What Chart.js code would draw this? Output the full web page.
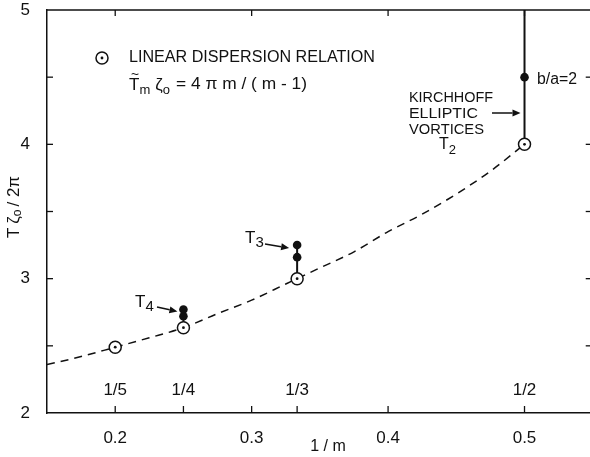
<!DOCTYPE html>
<html><head><meta charset="utf-8">
<script src="https://cdn.jsdelivr.net/npm/chart.js@4.4.1/dist/chart.umd.min.js"></script>
<style>
html,body{margin:0;padding:0;overflow:hidden;background:#fff;width:590px;height:457px}
#c{display:block}
</style></head>
<body><canvas id="c" width="590" height="457"></canvas>
<script>
// ---- data ----
const curveX = [0.15, 0.175, 0.2, 0.225, 0.25, 0.275, 0.3, 0.325, 0.35, 0.375, 0.4, 0.425, 0.45, 0.475, 0.5];
const curveY = [2.36, 2.42, 2.49, 2.56, 2.635, 2.74, 2.84, 2.96, 3.08, 3.2, 3.35, 3.48, 3.63, 3.8, 4.0];
const linearX = [0.2, 0.25, 1/3, 0.5];
const linearY = [2.49, 2.635, 3.0, 4.0];
const nonlinearX = [0.25, 0.25, 1/3, 1/3, 0.5];
const nonlinearY = [2.72, 2.77, 3.16, 3.25, 4.5];
const branchX = [0.25, 1/3, 0.5];
const branchBottom = [2.635, 3.0, 4.0];
const branchTop = [2.77, 3.25, 5.0];
const fracX = [0.2, 0.25, 1/3, 0.5];
const fracLabels = ['1/5', '1/4', '1/3', '1/2'];
const xTickValues = [0.2, 0.25, 0.3, 1/3, 0.4, 0.5];
const xTickLabels = ['0.2', '', '0.3', '', '0.4', '0.5'];
const topTickValues = [0.2, 0.3, 0.4, 0.5];
const yTickValues = [2, 3, 4, 5];
const yTickLabels = ['2', '3', '4', '5'];
const yMinorTicks = [2.5, 3, 3.5, 4, 4.5];
const X_MIN = 0.15, X_MAX = 0.548, Y_MIN = 2, Y_MAX = 5;

const FONT = '"Liberation Sans", Arial, sans-serif';
const INK = '#111';

const pts = (xs, ys) => xs.map((x, i) => ({x: x, y: ys[i]}));

const datasets = [];
datasets.push({data: pts(linearX, linearY), pointRadius: 1.4, pointBackgroundColor: INK, pointBorderWidth: 0, showLine: false});
datasets.push({data: pts(linearX, linearY), pointRadius: 6, pointBackgroundColor: '#fff', pointBorderColor: INK, pointBorderWidth: 1.5, showLine: false});
datasets.push({data: pts(nonlinearX, nonlinearY), pointRadius: 4.3, pointBackgroundColor: INK, pointBorderWidth: 0, showLine: false});
branchX.forEach((bx, i) => {
  datasets.push({data: [{x: bx, y: branchBottom[i]}, {x: bx, y: branchTop[i]}], showLine: true, borderColor: INK, borderWidth: 2, pointRadius: 0});
});
datasets.push({data: pts(curveX, curveY), showLine: true, borderColor: INK, borderWidth: 1.5, borderDash: [8, 6], pointRadius: 0, tension: 0.4, cubicInterpolationMode: 'monotone'});

function fitText(ctx, s, x, y, size, w, align) {
  ctx.font = size + 'px ' + FONT;
  const m = ctx.measureText(s).width;
  const sx = w ? w / m : 1;
  ctx.save();
  ctx.translate(x, y);
  ctx.scale(sx, 1);
  ctx.textBaseline = 'middle';
  ctx.textAlign = align || 'left';
  ctx.fillText(s, 0, 0);
  ctx.restore();
}
function arrow(ctx, x1, y1, x2, y2) {
  const a = Math.atan2(y2 - y1, x2 - x1);
  const L = 8, W = 3.5;
  ctx.beginPath();
  ctx.moveTo(x1, y1);
  ctx.lineTo(x2 - L * Math.cos(a), y2 - L * Math.sin(a));
  ctx.lineWidth = 1.5; ctx.stroke();
  ctx.beginPath();
  ctx.moveTo(x2, y2);
  ctx.lineTo(x2 - L * Math.cos(a) - W * Math.sin(a), y2 - L * Math.sin(a) + W * Math.cos(a));
  ctx.lineTo(x2 - L * Math.cos(a) + W * Math.sin(a), y2 - L * Math.sin(a) - W * Math.cos(a));
  ctx.closePath(); ctx.fill();
}
function openMarker(ctx, x, y) {
  ctx.beginPath(); ctx.arc(x, y, 6, 0, Math.PI * 2);
  ctx.fillStyle = '#fff'; ctx.fill();
  ctx.lineWidth = 1.5; ctx.strokeStyle = INK; ctx.stroke();
  ctx.beginPath(); ctx.arc(x, y, 1.4, 0, Math.PI * 2);
  ctx.fillStyle = INK; ctx.fill();
}
function pieces(ctx, list, x, y) {
  let cx = x;
  list.forEach(p => {
    ctx.font = p.size + 'px ' + FONT;
    ctx.textBaseline = 'middle'; ctx.textAlign = 'left';
    ctx.fillText(p.t, cx, y + (p.dy || 0));
    cx += ctx.measureText(p.t).width + (p.gap || 0);
  });
  return cx - x;
}
function piecesWidth(ctx, list) {
  let w = 0;
  list.forEach(p => { ctx.font = p.size + 'px ' + FONT; w += ctx.measureText(p.t).width + (p.gap || 0); });
  return w;
}

const decor = {
  id: 'decor',
  afterDatasetsDraw(chart) {
    const ctx = chart.ctx, xs = chart.scales.x, ys = chart.scales.y, a = chart.chartArea;
    ctx.save();
    ctx.strokeStyle = INK; ctx.fillStyle = INK; ctx.lineWidth = 1.5;
    ctx.beginPath(); ctx.moveTo(a.left, a.top); ctx.lineTo(a.right, a.top); ctx.stroke();
    ctx.lineWidth = 1.3;
    xTickValues.forEach(v => { const p = xs.getPixelForValue(v); ctx.beginPath(); ctx.moveTo(p, a.bottom); ctx.lineTo(p, a.bottom - 7); ctx.stroke(); });
    topTickValues.forEach(v => { const p = xs.getPixelForValue(v); ctx.beginPath(); ctx.moveTo(p, a.top); ctx.lineTo(p, a.top + 6); ctx.stroke(); });
    const rightEdge = xs.getPixelForValue(0.55);
    yMinorTicks.forEach(v => {
      const p = ys.getPixelForValue(v);
      ctx.beginPath(); ctx.moveTo(a.left, p); ctx.lineTo(a.left + 6, p); ctx.stroke();
      ctx.beginPath(); ctx.moveTo(rightEdge, p); ctx.lineTo(rightEdge - 7, p); ctx.stroke();
    });
    fracX.forEach((v, i) => fitText(ctx, fracLabels[i], xs.getPixelForValue(v), a.bottom - 23, 17, null, 'center'));
    openMarker(ctx, 102, 58);
    ctx.fillStyle = INK;
    fitText(ctx, 'LINEAR DISPERSION RELATION', 129, 58, 16, 246);
    const f = [
      {t: 'T', size: 17}, {t: 'm', size: 13, dy: 5, gap: 5},
      {t: 'ζ', size: 17}, {t: 'o', size: 13, dy: 5}
    ];
    pieces(ctx, f, 129, 85);
    fitText(ctx, '~', 131, 75, 14, 8);
    fitText(ctx, '= 4 π m / ( m - 1)', 176, 85, 16, 131);
    fitText(ctx, 'KIRCHHOFF', 409, 98, 15, 84);
    fitText(ctx, 'ELLIPTIC', 409, 114, 15, 69);
    fitText(ctx, 'VORTICES', 409, 130, 15, 75);
    pieces(ctx, [{t: 'T', size: 16}, {t: '2', size: 13, dy: 5}], 439, 145);
    arrow(ctx, 492, 113, xs.getPixelForValue(0.5) - 4, 113);
    fitText(ctx, 'b/a=2', 537, 80, 16, 40);
    pieces(ctx, [{t: 'T', size: 17}, {t: '3', size: 15, dy: 5}], 245, 238);
    arrow(ctx, 265, 244, xs.getPixelForValue(1/3) - 8, ys.getPixelForValue(3.25) + 3);
    pieces(ctx, [{t: 'T', size: 17}, {t: '4', size: 15, dy: 5}], 135, 302);
    arrow(ctx, 157, 307, xs.getPixelForValue(0.25) - 6, ys.getPixelForValue(2.77) + 2);
    fitText(ctx, '1 / m', 328, 447, 16, null, 'center');
    ctx.save();
    ctx.translate(14, 207);
    ctx.rotate(-Math.PI / 2);
    const yt = [{t: 'T', size: 17, gap: 4}, {t: 'ζ', size: 17}, {t: 'o', size: 12, dy: 4, gap: 3}, {t: '/ 2π', size: 17}];
    const w = piecesWidth(ctx, yt);
    pieces(ctx, yt, -w / 2, 0);
    ctx.restore();
    ctx.restore();
  }
};

const hiddenGrid = (len) => ({display: true, drawOnChartArea: false, drawTicks: true, tickLength: len, color: 'rgba(0,0,0,0)'});
const noPad = s => { s.paddingLeft = 0; s.paddingRight = 0; s.paddingTop = 0; s.paddingBottom = 0; };

new Chart(document.getElementById('c'), {
  type: 'scatter',
  data: {datasets: datasets},
  options: {
    responsive: false,
    animation: false,
    devicePixelRatio: 1,
    layout: {autoPadding: false, padding: {left: 0, right: 0, top: 10, bottom: 0}},
    plugins: {legend: {display: false}, tooltip: {enabled: false}},
    scales: {
      x: {
        type: 'linear', min: X_MIN, max: X_MAX,
        grid: hiddenGrid(15),
        border: {display: true, color: INK, width: 1.5},
        afterBuildTicks: s => { s.ticks = xTickValues.map(v => ({value: v})); },
        afterFit: s => { s.height = 44; noPad(s); },
        ticks: {padding: 0, color: INK, font: {family: FONT, size: 17}, maxRotation: 0, autoSkip: false,
                callback: (v, i) => xTickLabels[i]}
      },
      y: {
        type: 'linear', min: Y_MIN, max: Y_MAX,
        grid: hiddenGrid(17),
        border: {display: true, color: INK, width: 1.5},
        afterBuildTicks: s => { s.ticks = yTickValues.map(v => ({value: v})); },
        afterFit: s => { s.width = 47; noPad(s); },
        ticks: {padding: 0, color: INK, font: {family: FONT, size: 17},
                callback: (v, i) => yTickLabels[i]}
      }
    }
  },
  plugins: [decor]
});
</script>
</body></html>
